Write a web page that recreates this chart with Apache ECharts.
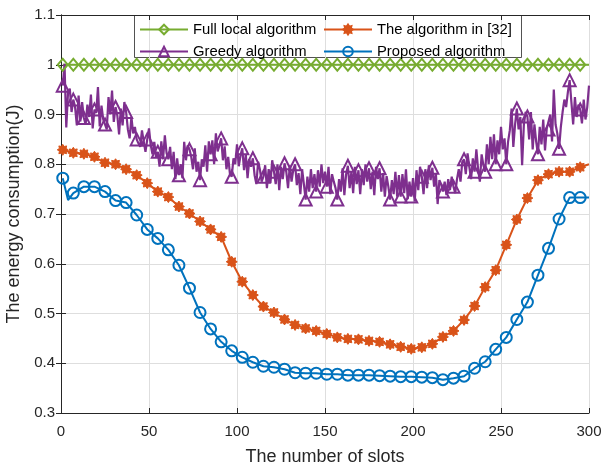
<!DOCTYPE html>
<html>
<head>
<meta charset="utf-8">
<style>
  html, body { margin: 0; padding: 0; background: #fff; }
  #chart { width: 603px; height: 463px; }
</style>
<script src="https://cdn.jsdelivr.net/npm/echarts@6/dist/echarts.min.js"></script>
</head>
<body>
<div id="chart"></div>
<script>
// Slots at which markers are drawn (every 6th slot)
const markerSlots = [1, 7, 13, 19, 25, 31, 37, 43, 49, 55, 61, 67, 73, 79, 85, 91, 97, 103, 109, 115,
  121, 127, 133, 139, 145, 151, 157, 163, 169, 175, 181, 187, 193, 199, 205, 211, 217, 223, 229, 235,
  241, 247, 253, 259, 265, 271, 277, 283, 289, 295];

// Full local algorithm: constant energy at the marker slots, plus the last slot
const fullLocal = [1, 1, 1, 1, 1, 1, 1, 1, 1, 1, 1, 1, 1, 1, 1, 1, 1, 1, 1, 1, 1, 1, 1, 1, 1,
  1, 1, 1, 1, 1, 1, 1, 1, 1, 1, 1, 1, 1, 1, 1, 1, 1, 1, 1, 1, 1, 1, 1, 1, 1];
const fullLocalEnd = [[300, 1]];

// The algorithm in [32], at the marker slots
const algo32 = [0.829, 0.823, 0.821, 0.815, 0.803, 0.800, 0.790, 0.778, 0.762, 0.745,
  0.734, 0.715, 0.701, 0.685, 0.669, 0.654, 0.604, 0.564, 0.537, 0.514,
  0.502, 0.488, 0.477, 0.470, 0.465, 0.459, 0.452, 0.449, 0.448, 0.445,
  0.443, 0.438, 0.433, 0.429, 0.432, 0.439, 0.453, 0.465, 0.487, 0.515,
  0.553, 0.587, 0.638, 0.689, 0.732, 0.768, 0.780, 0.785, 0.785, 0.794];
const algo32Extra = [[300, 0.800]];

// Proposed algorithm, at the marker slots
const proposed = [0.772, 0.742, 0.755, 0.755, 0.745, 0.727, 0.723, 0.698, 0.669, 0.651,
  0.628, 0.597, 0.551, 0.502, 0.469, 0.443, 0.425, 0.412, 0.402, 0.394,
  0.392, 0.388, 0.381, 0.380, 0.380, 0.378, 0.378, 0.376, 0.376, 0.376,
  0.375, 0.374, 0.373, 0.373, 0.372, 0.371, 0.367, 0.370, 0.374, 0.390,
  0.403, 0.428, 0.452, 0.488, 0.523, 0.577, 0.631, 0.690, 0.733, 0.733];
const proposedExtra = [[4, 0.728], [300, 0.733]];

// Greedy algorithm, one value per slot (slots 1..300)
const greedy = [
  0.958, 1.002, 0.874, 0.945, 0.952, 0.905,
  0.930, 0.915, 0.878, 0.938, 0.886, 0.925,
  0.893, 0.880, 0.920, 0.895, 0.940, 0.872,
  0.910, 0.903, 0.955, 0.876, 0.918, 0.890,
  0.880, 0.870, 0.935, 0.900, 0.948, 0.885,
  0.915, 0.898, 0.860, 0.912, 0.878, 0.925,
  0.905, 0.870, 0.852, 0.895, 0.862, 0.875,
  0.850, 0.842, 0.835, 0.868, 0.846, 0.825,
  0.850, 0.872, 0.838, 0.820, 0.845, 0.815,
  0.825, 0.795, 0.846, 0.810, 0.858, 0.822,
  0.810, 0.835, 0.790, 0.825, 0.770, 0.812,
  0.778, 0.800, 0.772, 0.845, 0.808, 0.838,
  0.830, 0.815, 0.790, 0.832, 0.785, 0.805,
  0.768, 0.810, 0.795, 0.838, 0.785, 0.846,
  0.820, 0.848, 0.800, 0.862, 0.826, 0.838,
  0.852, 0.808, 0.836, 0.790, 0.815, 0.780,
  0.775, 0.812, 0.800, 0.840, 0.796, 0.818,
  0.832, 0.788, 0.820, 0.772, 0.810, 0.795,
  0.812, 0.778, 0.760, 0.805, 0.790, 0.765,
  0.775, 0.798, 0.752, 0.790, 0.762, 0.808,
  0.785, 0.760, 0.800, 0.748, 0.795, 0.770,
  0.802, 0.785, 0.752, 0.798, 0.765, 0.790,
  0.800, 0.758, 0.782, 0.740, 0.790, 0.760,
  0.729, 0.775, 0.745, 0.790, 0.752, 0.780,
  0.745, 0.788, 0.755, 0.800, 0.762, 0.785,
  0.755, 0.795, 0.740, 0.780, 0.765, 0.752,
  0.729, 0.770, 0.745, 0.792, 0.738, 0.780,
  0.797, 0.752, 0.785, 0.742, 0.795, 0.760,
  0.788, 0.740, 0.790, 0.758, 0.800, 0.765,
  0.792, 0.750, 0.785, 0.738, 0.795, 0.770,
  0.792, 0.745, 0.782, 0.735, 0.776, 0.755,
  0.729, 0.768, 0.740, 0.785, 0.735, 0.778,
  0.735, 0.780, 0.742, 0.790, 0.730, 0.765,
  0.735, 0.772, 0.725, 0.788, 0.748, 0.795,
  0.775, 0.740, 0.790, 0.752, 0.798, 0.768,
  0.793, 0.755, 0.782, 0.720, 0.768, 0.760,
  0.745, 0.765, 0.738, 0.770, 0.748, 0.775,
  0.755, 0.742, 0.770, 0.790, 0.765, 0.805,
  0.810, 0.780, 0.822, 0.795, 0.770, 0.812,
  0.785, 0.830, 0.790, 0.765, 0.820, 0.798,
  0.785, 0.840, 0.800, 0.855, 0.810, 0.860,
  0.800, 0.848, 0.820, 0.875, 0.830, 0.852,
  0.800, 0.845, 0.868, 0.912, 0.835, 0.880,
  0.912, 0.870, 0.895, 0.798, 0.880, 0.905,
  0.896, 0.850, 0.905, 0.830, 0.880, 0.845,
  0.820, 0.875, 0.840, 0.890, 0.828, 0.872,
  0.870, 0.900, 0.846, 0.950, 0.880, 0.862,
  0.831, 0.875, 0.905, 0.930, 0.915, 0.945,
  0.969, 0.925, 0.880, 0.935, 0.895, 0.920,
  0.910, 0.882, 0.930, 0.890, 0.915, 0.958
];

const seriesNames = ['Full local algorithm', 'The algorithm in [32]', 'Greedy algorithm', 'Proposed algorithm'];
const colors = { green: '#77AC30', orange: '#D95319', purple: '#7E2F8E', blue: '#0072BD' };

const FONT = 'Liberation Sans, Arial, Helvetica, sans-serif';
const INK = '#262626';

// Asterisk-like marker used for the [32] curve
const asteriskPath = 'path://M10 0 L6 2.6 L7.07 7.07 L2.6 6 L0 10 L-2.6 6 L-7.07 7.07 L-6 2.6 L-10 0 L-6 -2.6 L-7.07 -7.07 L-2.6 -6 L0 -10 L2.6 -6 L7.07 -7.07 L6 -2.6 Z';

// Marker points plus any unmarked extra points, ordered by slot
function withExtras(values, extras) {
  const pts = markerSlots.map((s, i) => ({ value: [s, values[i]] }));
  extras.forEach(p => pts.push({ value: p, symbol: 'none' }));
  pts.sort((a, b) => a.value[0] - b.value[0]);
  return pts;
}

const greedyData = greedy.map((v, i) => (
  i % 6 === 0 ? { value: [i + 1, v] } : { value: [i + 1, v], symbol: 'none' }
));

const chart = echarts.init(document.getElementById('chart'), null, { renderer: 'canvas' });

const axisCommon = {
  axisLine: { show: true, lineStyle: { color: INK, width: 1 } },
  axisTick: { show: true, inside: true, length: 5, lineStyle: { color: INK, width: 1 } }
};

const legendCommon = {
  orient: 'vertical',
  top: 22,
  itemWidth: 48, itemHeight: 12, itemGap: 7,
  textStyle: { fontFamily: FONT, fontSize: 14.8, color: '#000' },
  padding: 0,
  selectedMode: false
};

chart.setOption({
  animation: false,
  backgroundColor: '#fff',
  textStyle: { fontFamily: FONT },
  grid: { left: 61, right: 14, top: 15, bottom: 50, show: false, containLabel: false, outerBoundsMode: 'none' },
  legend: [
    Object.assign({ data: [seriesNames[0], seriesNames[2]], left: 139 }, legendCommon),
    Object.assign({ data: [seriesNames[1], seriesNames[3]], left: 323 }, legendCommon)
  ],
  graphic: [
    {
      type: 'rect', z: 0, zlevel: 0,
      shape: { x: 134.5, y: 15.5, width: 387, height: 42 },
      style: { fill: '#fff', stroke: INK, lineWidth: 0.8 }
    }
  ],
  xAxis: [
    Object.assign({
      type: 'value', min: 0, max: 300, interval: 50, position: 'bottom',
      name: 'The number of slots', nameLocation: 'middle', nameGap: 35,
      nameTextStyle: { fontFamily: FONT, fontSize: 18, color: INK },
      axisLabel: { fontFamily: FONT, fontSize: 15, color: INK, margin: 11 },
      splitLine: { show: true, lineStyle: { color: '#dedede', width: 1 } }
    }, axisCommon),
    Object.assign({
      type: 'value', min: 0, max: 300, interval: 50, position: 'top',
      axisLabel: { show: false }, splitLine: { show: false }
    }, axisCommon)
  ],
  yAxis: [
    Object.assign({
      type: 'value', min: 0.3, max: 1.1, interval: 0.1, position: 'left',
      name: 'The energy consumption(J)', nameLocation: 'middle', nameGap: 35,
      nameTextStyle: { fontFamily: FONT, fontSize: 18, color: INK },
      axisLabel: {
        fontFamily: FONT, fontSize: 15, color: INK, margin: 6,
        formatter: v => String(parseFloat(v.toFixed(1)))
      },
      splitLine: { show: true, lineStyle: { color: '#dedede', width: 1 } }
    }, axisCommon),
    Object.assign({
      type: 'value', min: 0.3, max: 1.1, interval: 0.1, position: 'right',
      axisLabel: { show: false }, splitLine: { show: false }
    }, axisCommon)
  ],
  series: [
    {
      name: seriesNames[0], type: 'line', z: 3,
      data: withExtras(fullLocal, fullLocalEnd),
      symbol: 'diamond', symbolSize: [10, 12], showAllSymbol: true,
      lineStyle: { color: colors.green, width: 2 },
      itemStyle: { color: 'rgba(255,255,255,0)', borderColor: colors.green, borderWidth: 2 }
    },
    {
      name: seriesNames[1], type: 'line', z: 3,
      data: withExtras(algo32, algo32Extra),
      symbol: asteriskPath, symbolSize: 11, showAllSymbol: true,
      lineStyle: { color: colors.orange, width: 2 },
      itemStyle: { color: colors.orange, borderColor: colors.orange, borderWidth: 1 }
    },
    {
      name: seriesNames[2], type: 'line', z: 3,
      data: greedyData,
      symbol: 'triangle', symbolSize: 12, showAllSymbol: true,
      lineStyle: { color: colors.purple, width: 2.2 },
      itemStyle: { color: 'rgba(255,255,255,0)', borderColor: colors.purple, borderWidth: 2 }
    },
    {
      name: seriesNames[3], type: 'line', z: 3,
      data: withExtras(proposed, proposedExtra),
      symbol: 'circle', symbolSize: 11, showAllSymbol: true,
      lineStyle: { color: colors.blue, width: 2 },
      itemStyle: { color: 'rgba(255,255,255,0)', borderColor: colors.blue, borderWidth: 2 }
    }
  ]
});
</script>
</body>
</html>
